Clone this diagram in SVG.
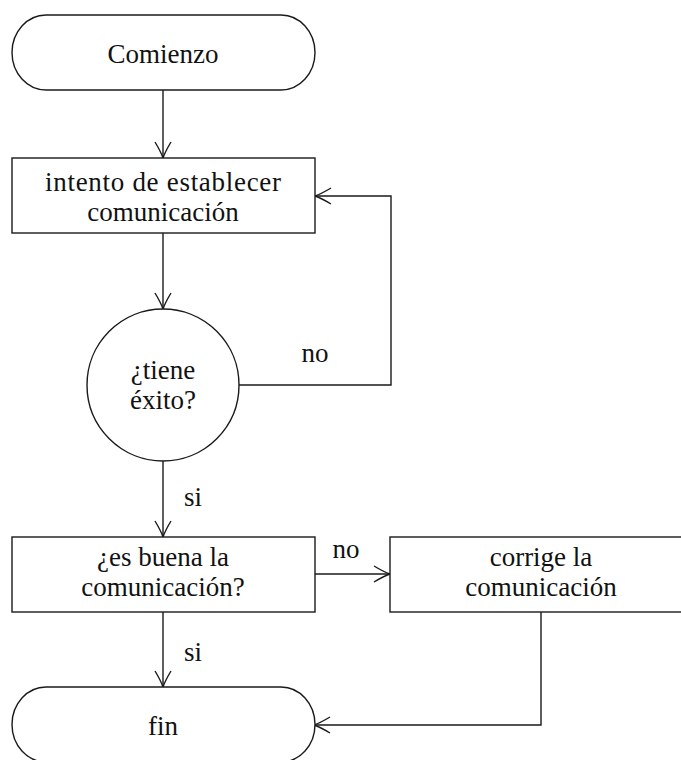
<svg xmlns="http://www.w3.org/2000/svg" width="681" height="760" viewBox="0 0 681 760">
<style>
.n{fill:#fff;stroke:#1a1a1a;stroke-width:1.4}
.c{fill:none;stroke:#1a1a1a;stroke-width:1.4}
text{font-family:'Liberation Serif','DejaVu Serif',serif;font-size:27px;fill:#111;text-anchor:middle}
</style>
<defs>
<marker id="ar" viewBox="-17 -9 19 18" refX="0" refY="0" markerWidth="19" markerHeight="18" markerUnits="userSpaceOnUse" orient="auto">
<path d="M-16,-8 Q-6,-2 0,0 Q-6,2 -16,8" fill="none" stroke="#1a1a1a" stroke-width="1.4"/>
</marker>
</defs>
<rect width="681" height="760" fill="#fff"/>
<g id="connectors">
<path class="c" d="M163,90 V158" marker-end="url(#ar)"/>
<path class="c" d="M163,233 V309" marker-end="url(#ar)"/>
<path class="c" d="M239,385 H391 V196 H315" marker-end="url(#ar)"/>
<path class="c" d="M163,461 V537" marker-end="url(#ar)"/>
<path class="c" d="M315,574 H390" marker-end="url(#ar)"/>
<path class="c" d="M163,612 V687" marker-end="url(#ar)"/>
<path class="c" d="M541,612 V725 H314" marker-end="url(#ar)"/>
<text x="315" y="362">no</text>
<text x="193" y="506">si</text>
<text x="346" y="558">no</text>
<text x="193" y="661">si</text>
</g>
<g id="start">
<rect class="n" x="12" y="15" width="303" height="75" rx="34" ry="37.5"/>
<text x="163" y="63">Comienzo</text>
</g>
<g id="intento">
<rect class="n" x="12" y="158" width="303" height="75"/>
<text x="163" y="191" textLength="236" lengthAdjust="spacing">intento de establecer</text>
<text x="163" y="221">comunicación</text>
</g>
<g id="exito">
<circle class="n" cx="163" cy="385" r="76"/>
<text x="163" y="379">¿tiene</text>
<text x="163" y="409">éxito?</text>
</g>
<g id="buena">
<rect class="n" x="12" y="537" width="303" height="75"/>
<text x="163" y="566">¿es buena la</text>
<text x="163" y="596">comunicación?</text>
</g>
<g id="corrige">
<rect class="n" x="390" y="537" width="303" height="75"/>
<text x="541" y="566">corrige la</text>
<text x="541" y="596">comunicación</text>
</g>
<g id="fin">
<rect class="n" x="12" y="687" width="303" height="75" rx="34" ry="37.5"/>
<text x="163" y="735">fin</text>
</g>
</svg>
